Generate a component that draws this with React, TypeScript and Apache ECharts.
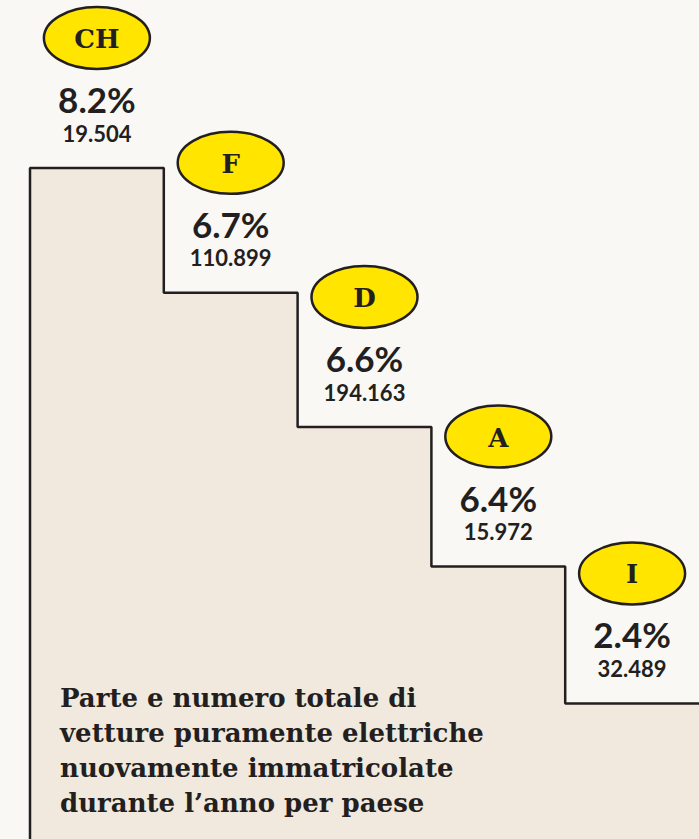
import React, { useEffect, useRef } from "react";
import * as echarts from "echarts";

const countries = ["CH", "F", "D", "A", "I"];
const shares = ["8.2%", "6.7%", "6.6%", "6.4%", "2.4%"];
const counts = ["19.504", "110.899", "194.163", "15.972", "32.489"];
// step heights (rank-like levels as drawn in the picture)
const levels = [5, 4.07, 3.07, 2.03, 1.01];
const description = [
  "Parte e numero totale di",
  "vetture puramente elettriche",
  "nuovamente immatricolate",
  "durante l\u2019anno per paese",
];

const INK = "#231f20";

export default function App() {
  const ref = useRef<HTMLDivElement>(null);
  useEffect(() => {
    if (!ref.current) return;
    const chart = echarts.init(ref.current, null, { renderer: "svg" });
    const stepData: number[][] = [[0, 0]];
    levels.forEach((lv, i) => stepData.push([i, lv]));
    stepData.push([levels.length, levels[levels.length - 1]]);
    const labelData = levels.map((lv, i) => [i + 0.5, lv]);

    chart.setOption({
      animation: false,
      backgroundColor: "#f9f8f5",
      grid: { left: 30, right: 0, top: 168, bottom: 0 },
      xAxis: { type: "value", min: 0, max: 5, show: false },
      yAxis: { type: "value", min: 0, max: 5, show: false },
      series: [
        {
          type: "line",
          data: stepData,
          step: "end",
          symbol: "none",
          clip: false,
          z: 1,
          lineStyle: { color: INK, width: 2.5 },
          areaStyle: { color: "#f1e9de", opacity: 1 },
          silent: true,
        },
        {
          type: "custom",
          coordinateSystem: "cartesian2d",
          clip: false,
          z: 5,
          data: labelData,
          renderItem: (params: any, api: any) => {
            const i = params.dataIndex;
            const p = api.coord([api.value(0), api.value(1)]);
            const x = p[0];
            const y = p[1];
            return {
              type: "group",
              children: [
                {
                  type: "ellipse",
                  shape: { cx: x, cy: y - 130, rx: 53, ry: 31 },
                  style: { fill: "#ffe500", stroke: INK, lineWidth: 2.5 },
                },
                {
                  type: "text",
                  x: x,
                  y: y - 129,
                  style: {
                    text: countries[i],
                    fontFamily: "DejaVu Serif",
                    fontWeight: "bold",
                    fontSize: 26,
                    lineHeight: 26,
                    fill: INK,
                    align: "center",
                    verticalAlign: "middle",
                  },
                },
                {
                  type: "text",
                  x: x,
                  y: y - 69,
                  style: {
                    text: shares[i],
                    fontFamily: "Lato",
                    fontWeight: "bold",
                    fontSize: 35,
                    lineHeight: 28,
                    fill: INK,
                    align: "center",
                    verticalAlign: "middle",
                  },
                },
                {
                  type: "text",
                  x: x,
                  y: y - 35,
                  style: {
                    text: counts[i],
                    fontFamily: "Lato",
                    fontWeight: "bold",
                    fontSize: 22,
                    lineHeight: 18,
                    fill: INK,
                    align: "center",
                    verticalAlign: "middle",
                  },
                },
              ],
            };
          },
        },
      ],
      graphic: [
        {
          type: "text",
          left: 60,
          top: 680,
          z: 100,
          style: {
            text: description.join("\n"),
            fontFamily: "DejaVu Serif",
            fontWeight: "bold",
            fontSize: 26,
            lineHeight: 35,
            fill: INK,
          },
        },
      ],
    });
    return () => chart.dispose();
  }, []);
  return (
    <div
      ref={ref}
      style={{ position: "absolute", left: 0, top: 0, width: 699, height: 839 }}
    />
  );
}
